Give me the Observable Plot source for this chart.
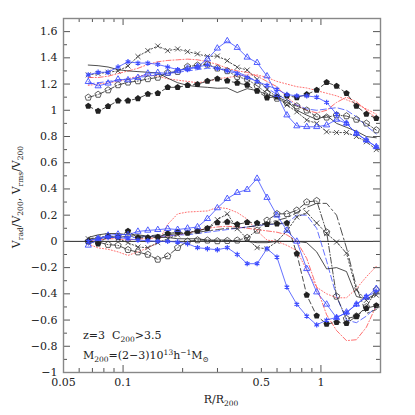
<!DOCTYPE html>
<html><head><meta charset="utf-8">
<script src="https://cdn.jsdelivr.net/npm/d3@7"></script>
<script src="https://cdn.jsdelivr.net/npm/@observablehq/plot@0.6"></script>
<style>
body{margin:0;background:#fff;}
#chart{width:415px;height:415px;}
</style></head><body><div id="chart"></div>
<script>
// radius bins R/R200
const R = [0.0667,0.0748,0.0840,0.0943,0.1059,0.1189,0.1334,0.1498,0.1681,0.1887,0.2118,0.2378,0.2669,0.2996,0.3363,0.3776,0.4238,0.4757,0.5340,0.5994,0.6730,0.7553,0.8478,0.9519,1.0685,1.1995,1.3464,1.5113,1.6965,1.9044];

// upper group: Vrms/V200
const upFilled = [1.032,0.994,1.03,1.073,1.073,1.09,1.124,1.129,1.175,1.175,1.19,1.198,1.223,1.24,1.225,1.208,1.193,1.147,1.096,1.103,1.111,1.098,1.121,1.154,1.213,1.185,1.129,1.032,0.971,0.938];
const upOpen = [1.098,1.12,1.154,1.193,1.213,1.223,1.239,1.25,1.287,1.294,1.333,1.343,1.35,1.32,1.30,1.256,1.236,1.187,1.129,1.09,1.057,1.032,1.00,0.95,0.946,0.963,0.956,0.93,0.90,0.849];
const upCross = [1.27,1.28,1.29,1.30,1.338,1.41,1.455,1.49,1.455,1.468,1.447,1.43,1.41,1.414,1.378,1.328,1.307,1.236,1.16,1.098,1.04,0.988,0.925,0.90,0.836,0.83,0.83,0.80,0.76,0.70];
const upTri = [1.218,1.185,1.206,1.236,1.231,1.249,1.282,1.287,1.282,1.30,1.32,1.333,1.39,1.473,1.529,1.478,1.404,1.363,1.261,1.12,0.963,0.88,0.874,0.874,0.887,0.93,0.90,0.823,0.772,0.721];
const upStar = [1.27,1.29,1.29,1.33,1.37,1.36,1.36,1.35,1.33,1.31,1.31,1.33,1.346,1.32,1.30,1.28,1.25,1.22,1.19,1.16,1.12,1.11,1.11,1.10,1.06,0.97,0.90,0.823,0.772,0.721];
const upSolid = [1.345,1.34,1.33,1.31,1.30,1.295,1.29,1.285,1.245,1.21,1.19,1.18,1.175,1.168,1.17,1.135,1.165,1.15,1.12,1.10,1.07,1.00,0.963,0.93,0.96,0.90,0.87,0.84,0.80,0.79];
const upRedDot = [1.19,1.20,1.21,1.22,1.24,1.26,1.27,1.26,1.24,1.23,1.22,1.21,1.22,1.24,1.25,1.26,1.27,1.27,1.25,1.22,1.20,1.18,1.17,1.15,1.13,1.11,1.08,1.05,1.01,0.97];
const upRedDash = [1.25,1.25,1.26,1.28,1.30,1.32,1.35,1.37,1.38,1.385,1.39,1.385,1.37,1.35,1.32,1.30,1.29,1.26,1.22,1.18,1.10,1.04,1.00,0.98,1.00,1.06,1.10,1.065,1.00,0.94];
const upBlueDash = [1.20,1.21,1.22,1.23,1.24,1.25,1.26,1.27,1.28,1.29,1.30,1.31,1.32,1.32,1.31,1.29,1.26,1.22,1.17,1.12,1.08,1.04,1.01,1.00,1.01,1.02,1.00,0.95,0.88,0.82];

// lower group: Vrad/V200
const loFilled = [0.0,-0.018,0.038,0.033,0.079,0.028,0.028,0.033,0.059,0.071,0.064,0.079,0.10,0.143,0.148,0.13,0.145,0.14,0.13,0.135,0.14,-0.094,-0.41,-0.568,-0.63,-0.617,-0.625,-0.571,-0.51,-0.49];
const loOpen = [0.0,-0.005,-0.025,-0.03,-0.064,-0.082,-0.10,-0.138,-0.112,-0.048,0.0,0.01,0.008,0.003,0.005,0.008,0.028,0.084,0.16,0.21,0.21,0.237,0.30,0.31,0.07,-0.42,-0.59,-0.57,-0.50,-0.37];
const loCross = [0.02,0.03,0.04,0.02,-0.01,-0.043,-0.048,-0.01,0.02,0.05,0.07,0.08,0.10,0.166,0.21,0.097,0.02,-0.048,-0.056,0.0,0.08,0.186,0.22,0.14,0.06,-0.005,-0.09,-0.37,-0.45,-0.41];
const loTri = [-0.03,0.02,0.046,0.054,0.05,0.076,0.084,0.089,0.097,0.09,0.10,0.11,0.173,0.255,0.326,0.372,0.395,0.48,0.334,0.199,0.084,0.0,-0.209,-0.387,-0.48,-0.583,-0.54,-0.48,-0.426,-0.36];
const loStar = [0.0,0.025,0.03,0.03,0.02,0.01,0.005,0.0,0.0,-0.005,-0.018,-0.048,-0.056,-0.064,-0.048,-0.10,-0.17,-0.17,-0.056,-0.12,-0.349,-0.48,-0.57,-0.637,-0.60,-0.579,-0.545,-0.48,-0.42,-0.387];
const loSolid = [0.03,0.05,0.06,0.06,0.05,0.05,0.04,0.03,0.03,0.02,0.02,0.02,0.01,0.01,0.01,0.0,0.0,-0.01,-0.01,0.0,0.0,0.0,-0.01,-0.08,-0.21,-0.20,-0.23,-0.42,-0.44,-0.40];
const loRedDot = [-0.02,-0.05,-0.06,-0.08,-0.107,-0.08,-0.05,-0.01,0.13,0.21,0.224,0.228,0.232,0.26,0.25,0.22,0.17,0.08,0.01,0.0,-0.03,-0.07,-0.22,-0.35,-0.40,-0.43,-0.43,-0.36,-0.27,-0.19];
const loRedDash = [0.0,0.01,0.02,0.02,0.01,0.02,0.02,0.03,0.04,0.05,0.06,0.084,0.10,0.11,0.115,0.11,0.10,0.09,0.08,0.07,0.05,0.0,-0.13,-0.35,-0.56,-0.68,-0.757,-0.75,-0.655,-0.49];
const loBlueDash = [0.01,0.02,0.03,0.03,0.03,0.03,0.04,0.04,0.04,0.05,0.05,0.06,0.07,0.08,0.09,0.10,0.11,0.12,0.13,0.13,0.14,0.20,0.20,0.10,-0.15,-0.42,-0.60,-0.62,-0.57,-0.50];
const loDashDot = [0.02,0.02,0.03,0.03,0.04,0.04,0.04,0.05,0.05,0.06,0.06,0.07,0.08,0.09,0.10,0.10,0.11,0.12,0.14,0.16,0.18,0.22,0.26,0.29,0.29,0.20,-0.05,-0.35,-0.55,-0.52];

// ticks
const xLabelTicks = [0.05, 0.1, 0.5, 1];
const xMajorTicks = [0.1, 1];
const xMinorTicks = [0.06,0.07,0.08,0.09,0.2,0.3,0.4,0.5,0.6,0.7,0.8,0.9];
const yMajorTicks = [-1,-0.8,-0.6,-0.4,-0.2,0,0.2,0.4,0.6,0.8,1,1.2,1.4,1.6];
const yMinorTicks = [-0.9,-0.7,-0.5,-0.3,-0.1,0.1,0.3,0.5,0.7,0.9,1.1,1.3,1.5,1.7];

const mk = ys => R.map((x, i) => ({x, y: ys[i]}));

const pentagon = {
  draw(ctx, size) {
    const r = Math.sqrt(size / Math.PI) * 1.12;
    for (let i = 0; i < 5; i++) {
      const a = -Math.PI / 2 + i * 2 * Math.PI / 5;
      const px = r * Math.cos(a), py = r * Math.sin(a);
      if (i === 0) ctx.moveTo(px, py); else ctx.lineTo(px, py);
    }
    ctx.closePath();
  }
};

const BLUE = "#3d4cff";
const RED = "#ff4a4a";
const DARK = "#222";
const W = 317, H = 354;

function series(ys, stroke, dash, marker) {
  const d = mk(ys);
  const out = [Plot.line(d, {x: "x", y: "y", stroke, strokeWidth: 0.8, strokeDasharray: dash})];
  if (marker === "filled") out.push(Plot.dot(d, {x: "x", y: "y", symbol: pentagon, r: 3.0, fill: DARK, stroke: "none"}));
  if (marker === "open") out.push(Plot.dot(d, {x: "x", y: "y", symbol: pentagon, r: 3.0, fill: "none", stroke: "#333", strokeWidth: 0.8}));
  if (marker === "cross") out.push(Plot.dot(d, {x: "x", y: "y", symbol: "times", r: 2.4, stroke: "#333", strokeWidth: 0.8}));
  if (marker === "tri") out.push(Plot.dot(d, {x: "x", y: "y", symbol: "triangle", r: 2.3, fill: "none", stroke: BLUE, strokeWidth: 0.9}));
  if (marker === "star") out.push(Plot.dot(d, {x: "x", y: "y", symbol: "asterisk", r: 2.5, stroke: BLUE, strokeWidth: 1.2}));
  return out;
}

const fmt = d => d === 0 ? "0" : String(d).replace("-", "\u2212");

const plot = Plot.plot({
  width: 415, height: 415,
  marginLeft: 63, marginRight: 35, marginTop: 18, marginBottom: 43,
  x: {type: "log", domain: [0.05, 2]},
  y: {domain: [-1, 1.7]},
  style: {fontFamily: "DejaVu Serif", fontSize: "11px", color: "#222", background: "white"},
  marks: [
    Plot.ruleY([0], {stroke: "#111", strokeWidth: 0.9}),
    ...series(upRedDot, RED, "1,2"),
    ...series(upRedDash, RED, "5,2,1,2"),
    ...series(upBlueDash, BLUE, "6,3"),
    ...series(upSolid, DARK, null),
    ...series(upCross, DARK, "1.5,2", "cross"),
    ...series(upOpen, DARK, "6,2,1,2", "open"),
    ...series(upFilled, DARK, "5,3", "filled"),
    ...series(upTri, BLUE, null, "tri"),
    ...series(upStar, BLUE, null, "star"),
    ...series(loRedDot, RED, "1,2"),
    ...series(loRedDash, RED, "5,2,1,2"),
    ...series(loBlueDash, BLUE, "6,3"),
    ...series(loDashDot, DARK, "8,3,2,3"),
    ...series(loSolid, DARK, null),
    ...series(loCross, DARK, "1.5,2", "cross"),
    ...series(loOpen, DARK, "6,2,1,2", "open"),
    ...series(loFilled, DARK, "5,3", "filled"),
    ...series(loTri, BLUE, null, "tri"),
    ...series(loStar, BLUE, null, "star"),
    // inward ticks
    Plot.tickY(yMajorTicks, {y: d => d, insetRight: W - 7, stroke: "#555"}),
    Plot.tickY(yMajorTicks, {y: d => d, insetLeft: W - 7, stroke: "#555"}),
    Plot.tickY(yMinorTicks, {y: d => d, insetRight: W - 4, stroke: "#555"}),
    Plot.tickY(yMinorTicks, {y: d => d, insetLeft: W - 4, stroke: "#555"}),
    Plot.tickX(xMajorTicks, {x: d => d, insetTop: H - 7, stroke: "#555"}),
    Plot.tickX(xMajorTicks, {x: d => d, insetBottom: H - 7, stroke: "#555"}),
    Plot.tickX(xMinorTicks, {x: d => d, insetTop: H - 4, stroke: "#555"}),
    Plot.tickX(xMinorTicks, {x: d => d, insetBottom: H - 4, stroke: "#555"}),
    Plot.frame({stroke: "#888", strokeWidth: 1.4}),
    Plot.axisY({ticks: yMajorTicks, tickSize: 0, tickPadding: 6, tickFormat: fmt, label: null}),
    Plot.axisX({ticks: xLabelTicks, tickSize: 0, tickPadding: 6, tickFormat: d => String(d), label: null})
  ]
});

document.getElementById("chart").appendChild(plot);

const svg = d3.select(plot);
const FONT = "DejaVu Serif";
function rich(sel, parts) {
  parts.forEach(p => {
    const t = sel.append("tspan").text(p.t);
    if (p.sub) t.attr("font-size", "7.5px").attr("dy", "3");
    if (p.sup) t.attr("font-size", "7.5px").attr("dy", "-4");
    if (p.back) t.attr("dy", p.back);
  });
}
function label(x, y, anchor) {
  return svg.append("text").attr("x", x).attr("y", y)
    .attr("text-anchor", anchor).attr("font-family", FONT).attr("font-size", "11px").attr("fill", "#222");
}
// y label
const yl = svg.append("text").attr("transform", "translate(20,197) rotate(-90)")
  .attr("text-anchor", "middle").attr("font-family", FONT).attr("font-size", "11px").attr("fill", "#222");
rich(yl, [{t: "V"}, {t: "rad", sub: 1}, {t: "/V", back: "-3"}, {t: "200", sub: 1}, {t: ", V", back: "-3"}, {t: "rms", sub: 1}, {t: "/V", back: "-3"}, {t: "200", sub: 1}]);
// x label
rich(label(221, 403, "middle"), [{t: "R/R"}, {t: "200", sub: 1}]);
// annotations
rich(label(83, 339, "start"), [{t: "z=3  C"}, {t: "200", sub: 1}, {t: ">3.5", back: "-3"}]);
rich(label(83, 359, "start"), [{t: "M"}, {t: "200", sub: 1}, {t: "=(2\u22123)10", back: "-3"}, {t: "13", sup: 1}, {t: "h", back: "4"}, {t: "\u22121", sup: 1}, {t: "M", back: "4"}, {t: "\u2299", sub: 1}]);
</script>
</body></html>
